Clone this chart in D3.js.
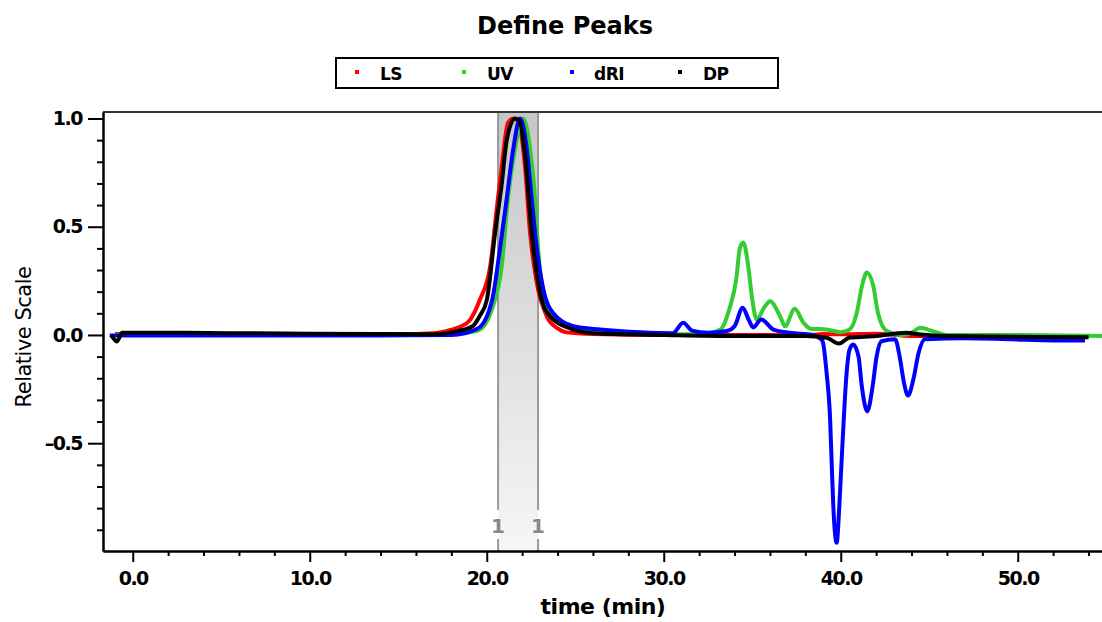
<!DOCTYPE html>
<html lang="en">
<head>
<meta charset="UTF-8">
<title>Define Peaks</title>
<script src="https://d3js.org/d3.v7.min.js"></script>
<style>
  body { margin: 0; background: #fff; }
  svg { display: block; font-family: "DejaVu Sans", Verdana, sans-serif; }
</style>
</head>
<body>
<div id="viz"></div>
<script>
// series data, [time (min), relative value]
var lsData = [[-1.0,0.005],[5,0.003],[10,0.003],[15,0.003],[17.0,0.008],[17.9,0.022],[18.5,0.038],[19.06,0.07],[19.6,0.16],[20.2,0.32],[20.56,0.58],[20.85,0.78],[21.2,0.98],[21.5,1.0],[21.77,0.99],[22.16,0.78],[22.45,0.47],[22.83,0.24],[23.39,0.087],[24.0,0.03],[24.5,0.012],[26,0.004],[30,0.0],[36,0.0],[38,-0.002],[39,0.004],[40,0.003],[42,0.006],[44,-0.005],[47,-0.005],[54,-0.005]];
var uvData = [[-1.0,0.0],[10,0.0],[18,0.003],[19.5,0.02],[20.3,0.12],[20.85,0.32],[21.2,0.63],[21.6,0.86],[22.05,1.0],[22.45,0.86],[22.73,0.63],[22.9,0.40],[23.2,0.20],[23.86,0.087],[25.3,0.025],[27,0.01],[30,0.003],[32,0.003],[33.2,0.025],[33.7,0.118],[34.1,0.26],[34.3,0.40],[34.5,0.427],[34.8,0.30],[35.0,0.164],[35.25,0.072],[35.72,0.133],[36.0,0.156],[36.57,0.087],[36.85,0.04],[37.4,0.121],[37.9,0.056],[38.3,0.029],[39.2,0.025],[40.0,0.013],[40.5,0.025],[40.9,0.10],[41.2,0.226],[41.47,0.288],[41.84,0.226],[42.1,0.103],[42.6,0.018],[43.35,0.0],[44.0,0.01],[44.5,0.033],[45.2,0.018],[46,0.0],[50,0.0],[55,-0.005]];
var driData = [[-1.3,-0.003],[2,-0.003],[6,-0.003],[10,-0.002],[14,-0.002],[18,0.0],[19.5,0.03],[20.3,0.16],[20.75,0.40],[21.13,0.63],[21.5,0.86],[21.88,1.0],[22.26,0.86],[22.54,0.63],[22.83,0.40],[23.2,0.21],[23.76,0.10],[24.9,0.04],[26.4,0.025],[28.7,0.012],[30.5,0.008],[31.1,0.056],[31.6,0.02],[32.5,0.01],[33.56,0.018],[34.0,0.04],[34.46,0.126],[34.8,0.07],[35.06,0.035],[35.5,0.072],[36.2,0.025],[37.1,0.01],[38.4,0.0],[38.9,-0.02],[39.0,-0.036],[39.2,-0.175],[39.4,-0.39],[39.5,-0.62],[39.58,-0.79],[39.77,-0.96],[39.92,-0.79],[40.05,-0.58],[40.19,-0.36],[40.3,-0.21],[40.5,-0.067],[40.7,-0.044],[41.0,-0.098],[41.19,-0.237],[41.5,-0.353],[41.8,-0.237],[42.03,-0.098],[42.3,-0.029],[43.07,-0.02],[43.35,-0.11],[43.57,-0.22],[43.8,-0.28],[44.1,-0.206],[44.4,-0.082],[44.76,-0.02],[47,-0.015],[49.6,-0.02],[52,-0.025],[53.8,-0.025]];
var dpData = [[-1.2,0.0],[-0.9,-0.03],[-0.6,0.01],[0,0.01],[3,0.01],[6,0.008],[10,0.006],[14,0.004],[17,0.003],[18,0.012],[19.2,0.04],[19.6,0.087],[20.0,0.16],[20.47,0.47],[20.85,0.70],[21.13,0.90],[21.6,1.0],[21.85,0.99],[22.16,0.83],[22.54,0.47],[23.0,0.20],[23.57,0.087],[24.9,0.025],[26,0.008],[30,0.0],[34,-0.005],[38,-0.005],[39.2,-0.013],[39.9,-0.04],[40.5,-0.012],[42,-0.005],[43.7,0.01],[44.5,0.002],[46,-0.005],[50,-0.008],[54,-0.01]];

var seriesNames = ["LS", "UV", "dRI", "DP"];
var seriesColors = ["#ff0000", "#33cc33", "#0000ff", "#000000"];
var seriesData = [lsData, uvData, driData, dpData];

var peakBounds = [20.64, 22.9];
var peakLabel = "1";

var xMajor = [0, 10, 20, 30, 40, 50];
var xMinor = [2, 4, 6, 8, 12, 14, 16, 18, 22, 24, 26, 28, 32, 34, 36, 38, 42, 44, 46, 48, 52, 54];
var yMajor = [-0.5, 0, 0.5, 1.0];
var yMinor = [-0.9, -0.8, -0.7, -0.6, -0.4, -0.3, -0.2, -0.1, 0.1, 0.2, 0.3, 0.4, 0.6, 0.7, 0.8, 0.9];

var W = 1102, H = 622;
var plotL = 103, plotR = 1102, plotT = 112, plotB = 551;

var svg = d3.select("#viz").append("svg")
    .attr("width", W)
    .attr("height", H);

var x = d3.scaleLinear().domain([-1.68, 54.76]).range([plotL, plotR]);
var y = d3.scaleLinear().domain([-0.998, 1.03]).range([plotB, plotT]);

// gradient for the peak band
var defs = svg.append("defs");
var grad = defs.append("linearGradient")
    .attr("id", "peakGrad")
    .attr("x1", 0).attr("y1", 0).attr("x2", 0).attr("y2", 1);
grad.append("stop").attr("offset", "0%").attr("stop-color", "#c6c6c6");
grad.append("stop").attr("offset", "100%").attr("stop-color", "#f6f6f6");

defs.append("clipPath").attr("id", "plotClip")
  .append("rect")
    .attr("x", plotL).attr("y", plotT)
    .attr("width", plotR - plotL).attr("height", plotB - plotT);

// title
svg.append("text")
    .attr("x", 565).attr("y", 34)
    .attr("text-anchor", "middle")
    .attr("font-size", 24)
    .attr("font-weight", "bold")
    .text("Define Peaks");

// legend
var legend = svg.append("g");
legend.append("rect")
    .attr("x", 336).attr("y", 58)
    .attr("width", 442).attr("height", 30)
    .attr("fill", "none")
    .attr("stroke", "#000")
    .attr("stroke-width", 2);
var legendX = [357, 464, 572, 680];
var legendTextX = [380, 487, 594, 703];
seriesNames.forEach(function(name, i){
    legend.append("rect")
        .attr("x", legendX[i] - 2).attr("y", 70)
        .attr("width", 4).attr("height", 4)
        .attr("fill", seriesColors[i]);
    legend.append("text")
        .attr("x", legendTextX[i]).attr("y", 80)
        .attr("font-size", 17)
        .attr("font-weight", "bold")
        .attr("letter-spacing", -0.5)
        .text(name);
});

// peak band
var band = svg.append("g");
band.append("rect")
    .attr("x", x(peakBounds[0])).attr("y", plotT)
    .attr("width", x(peakBounds[1]) - x(peakBounds[0]))
    .attr("height", plotB - plotT)
    .attr("fill", "url(#peakGrad)");
peakBounds.forEach(function(t){
    band.append("line")
        .attr("x1", x(t)).attr("x2", x(t))
        .attr("y1", plotT).attr("y2", 510)
        .attr("stroke", "#999").attr("stroke-width", 2);
    band.append("line")
        .attr("x1", x(t)).attr("x2", x(t))
        .attr("y1", 539).attr("y2", plotB)
        .attr("stroke", "#999").attr("stroke-width", 2);
    band.append("text")
        .attr("x", x(t)).attr("y", 533)
        .attr("text-anchor", "middle")
        .attr("font-size", 20)
        .attr("font-weight", "bold")
        .attr("fill", "#888")
        .text(peakLabel);
});

// series
var line = d3.line()
    .x(function(d){ return x(d[0]); })
    .y(function(d){ return y(d[1]); })
    .curve(d3.curveMonotoneX);

var plot = svg.append("g").attr("clip-path", "url(#plotClip)");
seriesData.forEach(function(data, i){
    plot.append("path")
        .datum(data)
        .attr("d", line)
        .attr("fill", "none")
        .attr("stroke", seriesColors[i])
        .attr("stroke-width", 4)
        .attr("stroke-linejoin", "miter");
});

// frame
svg.append("line")
    .attr("x1", plotL).attr("x2", plotR)
    .attr("y1", plotT).attr("y2", plotT)
    .attr("stroke", "#333").attr("stroke-width", 2);

// axes
var xAxisMajor = d3.axisBottom(x).tickValues(xMajor).tickSize(11).tickSizeOuter(0).tickPadding(10)
    .tickFormat(d3.format(".1f"));
var xAxisMinor = d3.axisBottom(x).tickValues(xMinor).tickSize(5).tickSizeOuter(0).tickFormat("");
var yAxisMajor = d3.axisLeft(y).tickValues(yMajor).tickSize(15).tickSizeOuter(0).tickPadding(6)
    .tickFormat(function(d){ return d < 0 ? "\u2013" + d3.format(".1f")(-d) : d3.format(".1f")(d); });
var yAxisMinor = d3.axisLeft(y).tickValues(yMinor).tickSize(6).tickSizeOuter(0).tickFormat("");

function styleAxis(g){
    g.select(".domain").attr("stroke", "#000").attr("stroke-width", 2);
    g.selectAll(".tick line").attr("stroke", "#000").attr("stroke-width", 2);
    g.selectAll(".tick text")
        .attr("font-family", "DejaVu Sans")
        .attr("font-size", 19)
        .attr("font-weight", "bold")
        .attr("letter-spacing", -1.5)
        .attr("fill", "#000");
}

svg.append("g").attr("transform", "translate(0," + plotB + ")").call(xAxisMinor).call(styleAxis);
svg.append("g").attr("transform", "translate(0," + plotB + ")").call(xAxisMajor).call(styleAxis);
svg.append("g").attr("transform", "translate(" + plotL + ",0)").call(yAxisMinor).call(styleAxis);
svg.append("g").attr("transform", "translate(" + plotL + ",0)").call(yAxisMajor).call(styleAxis);

// axis titles
svg.append("text")
    .attr("x", 603).attr("y", 614)
    .attr("text-anchor", "middle")
    .attr("font-size", 22)
    .attr("font-weight", "bold")
    .attr("letter-spacing", -0.5)
    .text("time (min)");

svg.append("text")
    .attr("transform", "translate(31,337) rotate(-90)")
    .attr("text-anchor", "middle")
    .attr("font-size", 21)
    .attr("letter-spacing", -0.5)
    .text("Relative Scale");
</script>
</body>
</html>
